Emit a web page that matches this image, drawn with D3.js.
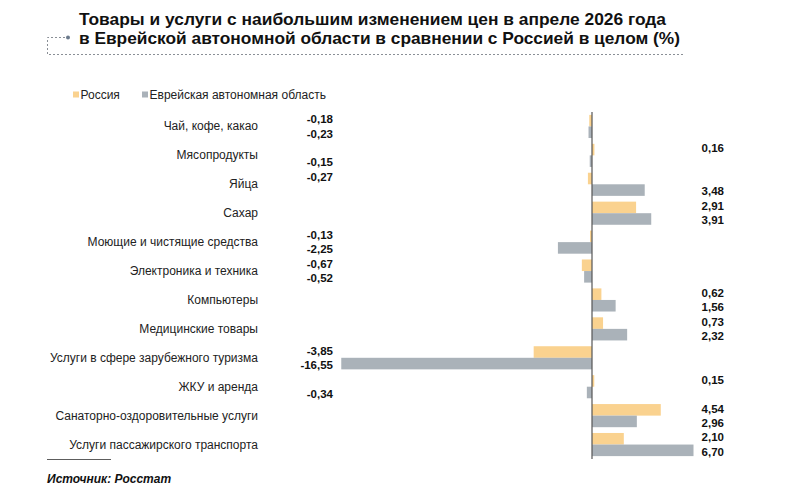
<!DOCTYPE html>
<html>
<head>
<meta charset="utf-8">
<script src="https://cdn.jsdelivr.net/npm/d3@7"></script>
<style>
  body { margin: 0; background: #fff; }
  text { font-family: "Liberation Sans", Arial, sans-serif; }
</style>
</head>
<body>
<script>
// categories and the two series (change of prices, %)
var categories = [
    "Чай, кофе, какао",
    "Мясопродукты",
    "Яйца",
    "Сахар",
    "Моющие и чистящие средства",
    "Электроника и техника",
    "Компьютеры",
    "Медицинские товары",
    "Услуги в сфере зарубежного туризма",
    "ЖКУ и аренда",
    "Санаторно-оздоровительные услуги",
    "Услуги пассажирского транспорта"
];
var russia = [-0.18, 0.16, -0.27, 2.91, -0.13, -0.67, 0.62, 0.73, -3.85, 0.15, 4.54, 2.10];
var region = [-0.23, -0.15, 3.48, 3.91, -2.25, -0.52, 1.56, 2.32, -16.55, -0.34, 2.96, 6.70];
var seriesNames = ["Россия", "Еврейская автономная область"];
var colors = ["#FAD28F", "#AAB2B9"];

var W = 793, H = 491;
var svg = d3.select("body").append("svg").attr("width", W).attr("height", H);

// title with dotted frame
var title = svg.append("g");
title.append("path")
    .attr("d", "M65,37.5 H47.5 V54.5 H683")
    .attr("fill", "none")
    .attr("stroke", "#8a8f96")
    .attr("stroke-width", 1)
    .attr("stroke-dasharray", "2,2");
title.append("circle").attr("cx", 68).attr("cy", 37.5).attr("r", 2).attr("fill", "#6b7a8c");
var tl = ["Товары и услуги с наибольшим изменением цен в апреле 2026 года",
          "в Еврейской автономной области в сравнении с Россией в целом (%)"];
title.selectAll("text.t").data(tl).enter().append("text")
    .attr("class", "t")
    .attr("x", 79)
    .attr("y", function (d, i) { return 25 + i * 18.5; })
    .attr("textLength", function (d, i) { return i === 0 ? 587 : 601; })
    .attr("lengthAdjust", "spacingAndGlyphs")
    .style("font-size", "16.5px")
    .style("font-weight", "bold")
    .attr("fill", "#111")
    .text(function (d) { return d; });

// legend
var legend = svg.append("g");
var legX = [73, 142];
seriesNames.forEach(function (n, i) {
    legend.append("rect").attr("x", legX[i]).attr("y", 91.5).attr("width", 6).attr("height", 6).attr("fill", colors[i]);
    legend.append("text").attr("x", legX[i] + 7.5).attr("y", 99)
        .style("font-size", "12px").attr("fill", "#222").text(n);
});

// scales
var x = d3.scaleLinear().domain([-17, 7]).range([592 - 17 * 15.15, 592 + 7 * 15.15]);
var y = d3.scaleBand().domain(categories).range([112, 459]).paddingInner(0).paddingOuter(0);
var inner = d3.scaleBand().domain([0, 1]).range([0, y.bandwidth()]).paddingOuter(0.25).paddingInner(0);

var rows = svg.append("g").selectAll("g.row")
    .data(categories.map(function (c, i) { return { cat: c, vals: [russia[i], region[i]] }; }))
    .enter().append("g")
    .attr("class", "row")
    .attr("transform", function (d) { return "translate(0," + y(d.cat) + ")"; });

rows.append("text")
    .attr("x", 258)
    .attr("y", y.bandwidth() / 2 + 4)
    .attr("text-anchor", "end")
    .style("font-size", "12px")
    .attr("fill", "#222")
    .text(function (d) { return d.cat; });

rows.selectAll("rect.bar")
    .data(function (d) { return d.vals; })
    .enter().append("rect")
    .attr("class", "bar")
    .attr("x", function (v) { return x(Math.min(0, v)); })
    .attr("y", function (v, i) { return inner(i); })
    .attr("width", function (v) { return Math.abs(x(v) - x(0)); })
    .attr("height", inner.bandwidth())
    .attr("fill", function (v, i) { return colors[i]; });

// value labels: negatives on the left, positives on the right, pushed apart a little
var fmt = function (v) { return d3.format(".2f")(v).replace(".", ",").replace("−", "-"); };
rows.selectAll("text.val")
    .data(function (d) { return d.vals; })
    .enter().append("text")
    .attr("class", "val")
    .attr("x", function (v) { return v < 0 ? 333 : 724; })
    .attr("y", function (v, i) { return inner(i) + inner.bandwidth() / 2 + 4 + (i === 0 ? -1.3 : 1.3); })
    .attr("text-anchor", "end")
    .style("font-size", "11.5px")
    .style("font-weight", "bold")
    .attr("fill", "#111")
    .text(fmt);

// zero axis
svg.append("line")
    .attr("x1", x(0)).attr("x2", x(0))
    .attr("y1", 112).attr("y2", 459)
    .attr("stroke", "#555").attr("stroke-width", 1.2);

// source
svg.append("line").attr("x1", 47).attr("x2", 111).attr("y1", 459.5).attr("y2", 459.5)
    .attr("stroke", "#333").attr("stroke-width", 0.8);
svg.append("text").attr("x", 47).attr("y", 483)
    .style("font-size", "12px").style("font-weight", "bold").style("font-style", "italic")
    .attr("fill", "#111").text("Источник: Росстат");
</script>
</body>
</html>
